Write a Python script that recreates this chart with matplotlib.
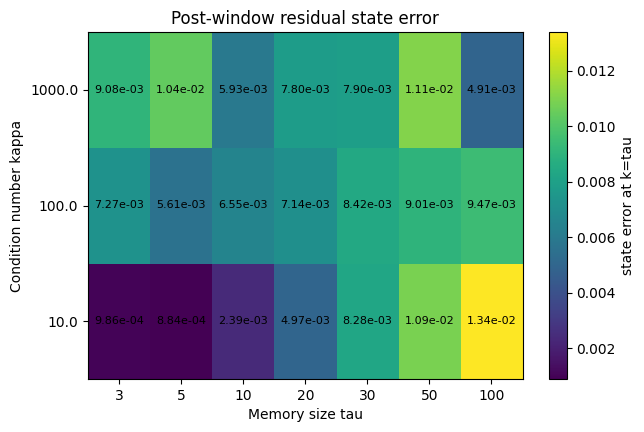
import numpy as np
import matplotlib
matplotlib.use("Agg")
import matplotlib.pyplot as plt

taus = [3, 5, 10, 20, 30, 50, 100]
kappas = [10.0, 100.0, 1000.0]

err_k10 = [9.86e-04, 8.84e-04, 2.39e-03, 4.97e-03, 8.28e-03, 1.09e-02, 1.34e-02]
err_k100 = [7.27e-03, 5.61e-03, 6.55e-03, 7.14e-03, 8.42e-03, 9.01e-03, 9.47e-03]
err_k1000 = [9.08e-03, 1.04e-02, 5.93e-03, 7.80e-03, 7.90e-03, 1.11e-02, 4.91e-03]

Z = np.array([err_k10, err_k100, err_k1000])

W, H = 644, 432
fig = plt.figure(figsize=(6.44, 4.32), dpi=100)
ax = fig.add_axes([88 / W, (H - 379) / H, (522.5 - 88) / W, (379 - 32) / H])
cax = fig.add_axes([549.3 / W, (H - 379) / H, (566.7 - 549.3) / W, (379 - 32) / H])
im = ax.imshow(Z, origin="lower", aspect="auto", cmap="viridis")
ax.set_xticks(range(len(taus)))
ax.set_xticklabels([str(t) for t in taus])
ax.set_yticks(range(len(kappas)))
ax.set_yticklabels([str(k) for k in kappas])
for i in range(Z.shape[0]):
    for j in range(Z.shape[1]):
        ax.text(j, i, f"{Z[i, j]:.2e}", ha="center", va="center", fontsize=8, color="black")
ax.set_xlabel("Memory size tau")
ax.set_ylabel("Condition number kappa")
ax.set_title("Post-window residual state error")
cb = fig.colorbar(im, cax=cax)
cb.set_label("state error at k=tau")
fig.savefig("out.png", dpi=100)
